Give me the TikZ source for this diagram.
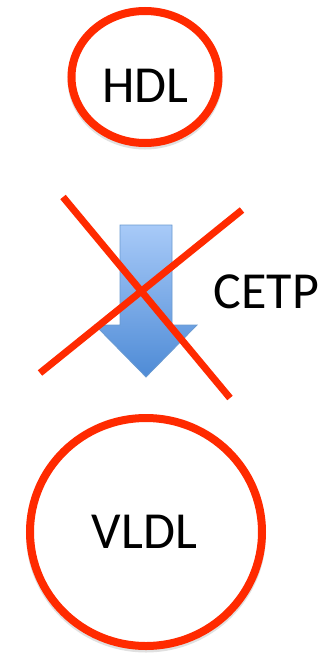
\documentclass[tikz,border=0pt]{standalone}
\usepackage{fontspec}
\setmainfont{Carlito}
\usetikzlibrary{shapes.geometric}
\definecolor{ringred}{HTML}{FF2A00}
\definecolor{arrtop}{HTML}{A8CAF8}
\definecolor{arrbot}{HTML}{4E8BD6}
\definecolor{arredge}{HTML}{6A9AD0}
\tikzset{
  ring/.style={ellipse, draw=ringred, line width=8pt, fill=white, inner sep=0pt},
  ringshadow/.style={ellipse, draw=black!12, line width=8pt, inner sep=0pt},
  lbl/.style={font=\fontsize{52}{60}\selectfont, inner sep=0pt, anchor=base},
  cross/.style={draw=ringred, line width=7pt},
  bigarrow/.style={draw=arredge, line width=0.8pt, top color=arrtop, bottom color=arrbot}
}
\begin{document}
\begin{tikzpicture}[x=1pt,y=-1pt]
\useasboundingbox[fill=white] (0,0) rectangle (329,655);
% shadows
\node[ringshadow, minimum width=147, minimum height=132] (hdls) at (145,79.5) {};
\node[ringshadow, minimum width=232, minimum height=228] (vldls) at (146,534.5) {};
% circles
\node[ring, minimum width=147, minimum height=132] (hdl) at (145,77) {};
\node[ring, minimum width=232, minimum height=228] (vldl) at (146,532) {};
\node[lbl] (hdltxt) at (145.5,103) {HDL};
\node[lbl] (vldltxt) at (144.5,548) {VLDL};
% arrow
\draw[bigarrow] (120,225) -- (172,225) -- (172,325) -- (197,325) -- (146,377) -- (95,325) -- (120,325) -- cycle;
\node[lbl] (cetp) at (266.5,308) {CETP};
% cross
\coordinate (c1a) at (63,197);
\coordinate (c1b) at (230,398);
\coordinate (c2a) at (242,210);
\coordinate (c2b) at (40,373);
\draw[cross] (c1a) -- (c1b);
\draw[cross] (c2a) -- (c2b);
\end{tikzpicture}
\end{document}
